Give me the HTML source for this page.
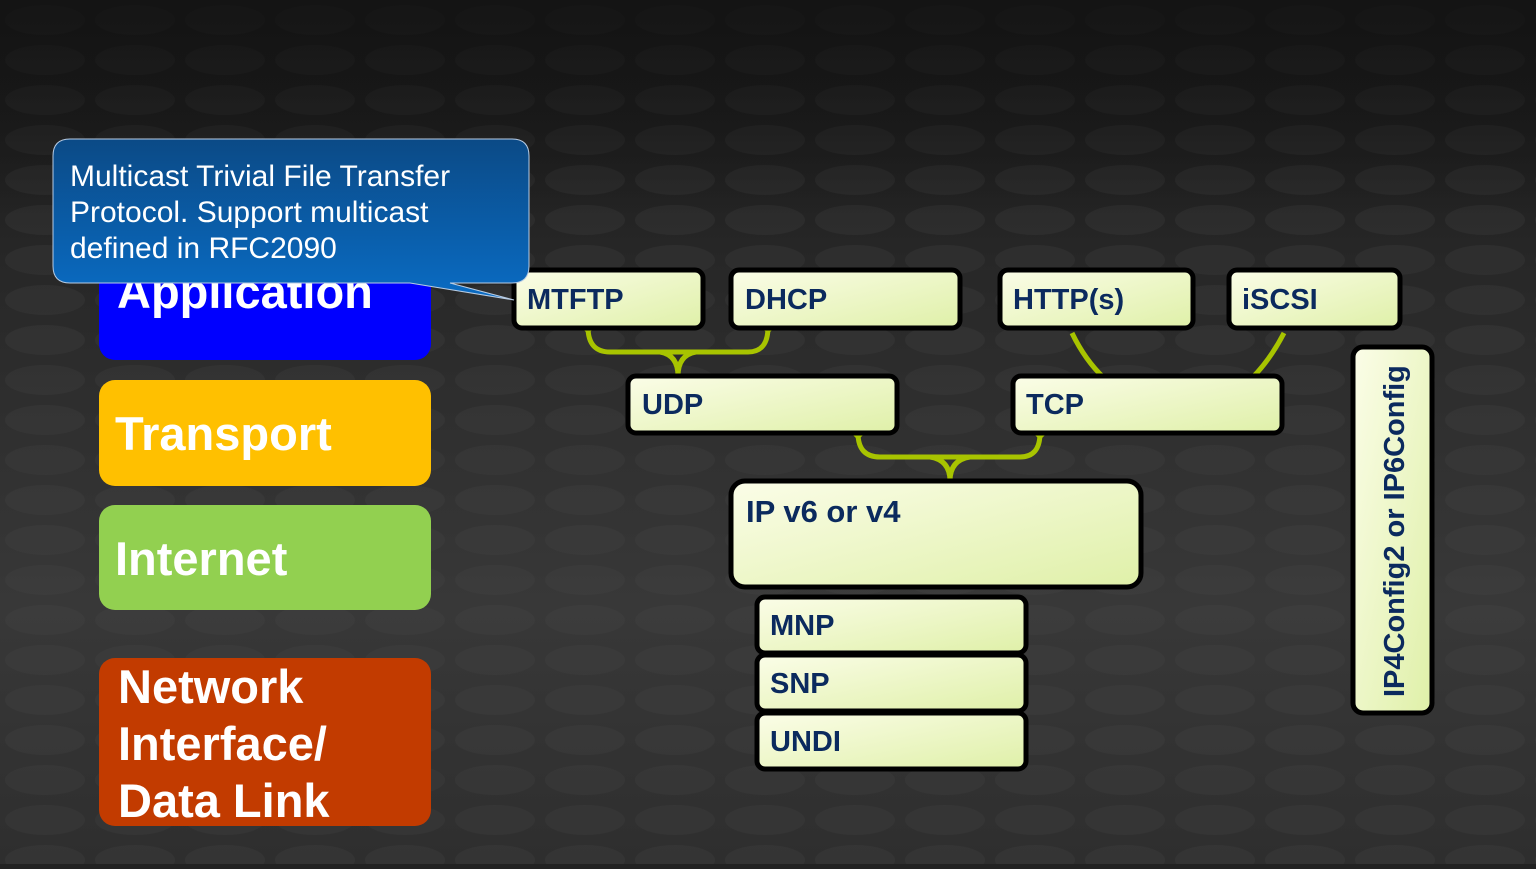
<!DOCTYPE html>
<html><head><style>
body{margin:0;width:1536px;height:864px;overflow:hidden;background:#222;font-family:"Liberation Sans",sans-serif}
</style></head><body>
<svg width="1536" height="864" xmlns="http://www.w3.org/2000/svg">
<defs>
<linearGradient id="bg" x1="0" y1="0" x2="0" y2="1">
<stop offset="0" stop-color="#141414"/><stop offset="0.3" stop-color="#272727"/><stop offset="0.7" stop-color="#383838"/><stop offset="1" stop-color="#2e2e2e"/></linearGradient>
<linearGradient id="fade" x1="0" y1="0" x2="0" y2="1">
<stop offset="0" stop-color="#141414" stop-opacity="0.9"/><stop offset="0.25" stop-color="#141414" stop-opacity="0"/></linearGradient>
<linearGradient id="bx" x1="0" y1="0" x2="1" y2="1">
<stop offset="0" stop-color="#fbfde8"/><stop offset="1" stop-color="#dff0a8"/></linearGradient>
<linearGradient id="co" x1="0" y1="0" x2="0" y2="1">
<stop offset="0" stop-color="#0b4a86"/><stop offset="1" stop-color="#0a6cc4"/></linearGradient>
<pattern id="dots" width="90" height="40" patternUnits="userSpaceOnUse">
<ellipse cx="45" cy="20" rx="40" ry="15" fill="#4a4a4a" opacity="0.22"/></pattern>
</defs>
<rect width="1536" height="864" fill="url(#bg)"/>
<rect width="1536" height="864" fill="url(#dots)"/>
<rect width="1536" height="864" fill="url(#fade)"/>

<g font-weight="bold" font-size="47" fill="#fff">
<rect x="99" y="255" width="332" height="105" rx="16" fill="#0000ff"/>
<text x="117" y="308">Application</text>
<rect x="99" y="380" width="332" height="106" rx="16" fill="#ffc000"/>
<text x="115" y="450">Transport</text>
<rect x="99" y="505" width="332" height="105" rx="16" fill="#92d050"/>
<text x="115" y="575">Internet</text>
<rect x="99" y="658" width="332" height="168" rx="16" fill="#c23b00"/>
<text x="118" y="703">Network</text>
<text x="118" y="760">Interface/</text>
<text x="118" y="817">Data Link</text>
</g>

<g fill="none" stroke="#a8c400" stroke-width="5">
<path d="M588 327 Q588 352 610 352 L748 352 Q768 352 768 327"/>
<path d="M660 352 Q678 355 678 376 M696 352 Q678 355 678 376"/>
<path d="M858 433 Q858 457 880 457 L1020 457 Q1040 457 1040 433"/>
<path d="M930 457 Q950 460 950 481 M970 457 Q950 460 950 481"/>
<path d="M1072 333 Q1085 360 1104 378"/>
<path d="M1284 333 Q1270 360 1252 378"/>
</g>
<g fill="#a8c400">
<rect x="583" y="322" width="10" height="10" transform="rotate(45 588 327)"/>
<rect x="763" y="322" width="10" height="10" transform="rotate(45 768 327)"/>
<rect x="853" y="428" width="10" height="10" transform="rotate(45 858 433)"/>
<rect x="1035" y="428" width="10" height="10" transform="rotate(45 1040 433)"/>
</g>

<g stroke="#000" stroke-width="5" fill="url(#bx)">
<rect x="514" y="270" width="189" height="58" rx="8"/>
<rect x="731" y="270" width="229" height="58" rx="8"/>
<rect x="1000" y="270" width="193" height="58" rx="8"/>
<rect x="1229" y="270" width="171" height="58" rx="8"/>
<rect x="628" y="376" width="269" height="57" rx="8"/>
<rect x="1013" y="376" width="269" height="57" rx="8"/>
<rect x="731" y="481" width="410" height="106" rx="14"/>
<rect x="757" y="597" width="269" height="56" rx="8"/>
<rect x="757" y="655" width="269" height="56" rx="8"/>
<rect x="757" y="713" width="269" height="56" rx="8"/>
<rect x="1353" y="347" width="79" height="366" rx="10"/>
</g>
<g font-weight="bold" font-size="29" fill="#0b2a5e">
<text x="527" y="309">MTFTP</text>
<text x="745" y="309">DHCP</text>
<text x="1013" y="309">HTTP(s)</text>
<text x="1242" y="309">iSCSI</text>
<text x="642" y="414">UDP</text>
<text x="1026" y="414">TCP</text>
<text x="746" y="522" font-size="31">IP v6 or v4</text>
<text x="770" y="635">MNP</text>
<text x="770" y="693">SNP</text>
<text x="770" y="751">UNDI</text>
<text transform="translate(1404 697) rotate(-90)" font-size="29">IP4Config2 or IP6Config</text>
</g>

<path d="M70 139 L512 139 Q529 139 529 156 L529 266 Q529 283 512 283 L450 283 L514 300 L410 283 L70 283 Q53 283 53 266 L53 156 Q53 139 70 139 Z" fill="url(#co)" stroke="#b8cce4" stroke-width="1"/>
<g fill="#fff" font-size="30">
<text x="70" y="186">Multicast Trivial File Transfer</text>
<text x="70" y="222">Protocol.  Support multicast</text>
<text x="70" y="258">defined in RFC2090</text>
</g>
</svg>
</body></html>
